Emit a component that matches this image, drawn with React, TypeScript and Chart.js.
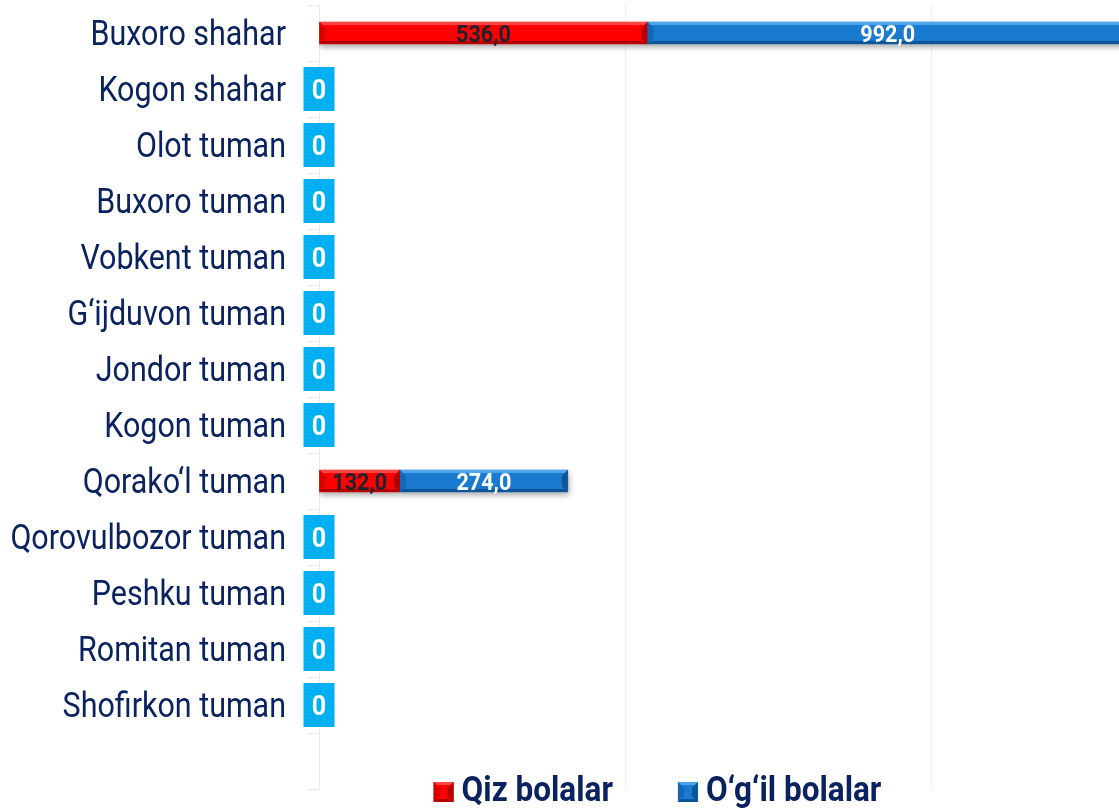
import React, { useEffect, useRef } from 'react';
import { Chart, registerables } from 'chart.js';

Chart.register(...registerables);

const categories = [
  'Buxoro shahar',
  'Kogon shahar',
  'Olot tuman',
  'Buxoro tuman',
  'Vobkent tuman',
  'G‘ijduvon tuman',
  'Jondor tuman',
  'Kogon tuman',
  'Qorako‘l tuman',
  'Qorovulbozor tuman',
  'Peshku tuman',
  'Romitan tuman',
  'Shofirkon tuman',
  '',
];
const qizBolalar = [536, 0, 0, 0, 0, 0, 0, 0, 132, 0, 0, 0, 0, null];
const ogilBolalar = [992, 0, 0, 0, 0, 0, 0, 0, 274, 0, 0, 0, 0, null];
const seriesNames = ['Qiz bolalar', 'O‘g‘il bolalar'];
const xTicks = [0, 500, 1000];
const xMax = 1320;

const NAVY = '#0A2260';
const SX = 0.87;
const SXB = 0.9;
const FONT = 'Roboto, "Noto Sans", sans-serif';

const palettes = [
  { base: '#FF0000', light: '#FF4545', dark: '#B30000', side: '#D40000', text: '#1E232D' },
  { base: '#1A7AD0', light: '#4BA5EC', dark: '#0C5698', side: '#1467B4', text: '#FFFFFF' },
];

function drawText(ctx: CanvasRenderingContext2D, text: string, x: number, y: number, align: string, font: string, color: string, sx: number) {
  ctx.save();
  ctx.font = font;
  ctx.fillStyle = color;
  ctx.textBaseline = 'alphabetic';
  ctx.textAlign = 'left';
  const w = ctx.measureText(text).width * sx;
  const left = align === 'right' ? x - w : align === 'center' ? x - w / 2 : x;
  ctx.translate(left, y);
  ctx.scale(sx, 1);
  ctx.fillText(text, 0, 0);
  ctx.restore();
  return w;
}

function textWidth(ctx: CanvasRenderingContext2D, text: string, font: string, sx: number) {
  ctx.save();
  ctx.font = font;
  const w = ctx.measureText(text).width * sx;
  ctx.restore();
  return w;
}

function bevel(ctx: CanvasRenderingContext2D, l: number, t: number, r: number, b: number, p: any, bw: number) {
  const poly = (pts: number[][], color: string) => {
    ctx.beginPath();
    ctx.moveTo(pts[0][0], pts[0][1]);
    for (let i = 1; i < pts.length; i++) ctx.lineTo(pts[i][0], pts[i][1]);
    ctx.closePath();
    ctx.fillStyle = color;
    ctx.fill();
  };
  poly([[l, t], [r, t], [r - bw, t + bw], [l + bw, t + bw]], p.light);
  poly([[l, b], [r, b], [r - bw, b - bw], [l + bw, b - bw]], p.dark);
  const sw = Math.min(bw * 2, (b - t) / 2);
  poly([[l, t], [l + sw, t + sw], [l + sw, b - sw], [l, b]], p.side);
  poly([[r, t], [r - sw, t + sw], [r - sw, b - sw], [r, b]], p.dark);
}

const decorPlugin = {
  id: 'decor',
  beforeDatasetsDraw(chart: any) {
    const ctx = chart.ctx;
    ctx.save();
    ctx.shadowColor = 'rgba(0,0,0,0.35)';
    ctx.shadowBlur = 6;
    ctx.shadowOffsetX = 1;
    ctx.shadowOffsetY = 3;
  },
  afterDatasetsDraw(chart: any) {
    const ctx = chart.ctx;
    ctx.restore();
    const area = chart.chartArea;
    const xs = chart.scales.x;
    const seriesData = [qizBolalar, ogilBolalar];
    ctx.save();
    ctx.beginPath();
    ctx.rect(area.left, area.top, area.right - area.left, area.bottom - area.top);
    ctx.clip();
    seriesData.forEach((vals, di) => {
      const meta = chart.getDatasetMeta(di);
      meta.data.forEach((el: any, i: number) => {
        const v = vals[i];
        if (!v) return;
        const { x, base, y, height } = el.getProps(['x', 'base', 'y', 'height'], true);
        const l = Math.min(x, base);
        const r = Math.max(x, base);
        bevel(ctx, l, y - height / 2, r, y + height / 2, palettes[di], 3);
      });
    });
    ctx.restore();
    seriesData.forEach((vals, di) => {
      const meta = chart.getDatasetMeta(di);
      meta.data.forEach((el: any, i: number) => {
        const v = vals[i];
        if (!v) return;
        const { x, base, y } = el.getProps(['x', 'base', 'y'], true);
        const l = Math.max(Math.min(x, base), area.left);
        const r = Math.min(Math.max(x, base), area.right);
        const txt = v.toFixed(1).replace('.', ',');
        drawText(ctx, txt, (l + r) / 2, y + 8.5, 'center', `bold 24px ${FONT}`, palettes[di].text, SXB);
      });
    });
    const meta1 = chart.getDatasetMeta(1);
    meta1.data.forEach((el: any, i: number) => {
      if (qizBolalar[i] !== 0 || ogilBolalar[i] !== 0) return;
      const cx = xs.getPixelForValue(0);
      const cy = el.getProps(['y'], true).y;
      ctx.save();
      ctx.fillStyle = '#00B0F0';
      ctx.fillRect(cx - 15.5, cy - 22, 31, 44);
      ctx.restore();
      drawText(ctx, '0', cx, cy + 10, 'center', `bold 28px ${FONT}`, '#FFFFFF', SXB);
    });
  },
  afterDraw(chart: any) {
    const ctx = chart.ctx;
    const ys = chart.scales.y;
    const labelFont = `35px ${FONT}`;
    categories.forEach((c, i) => {
      if (!c) return;
      const y = ys.getPixelForValue(i);
      drawText(ctx, c, 286, y + 12, 'right', labelFont, NAVY, SX);
    });
    const legFont = `bold 35px ${FONT}`;
    const w1 = textWidth(ctx, seriesNames[0], legFont, SXB);
    const w2 = textWidth(ctx, seriesNames[1], legFont, SXB);
    const box = 20, gapT = 8, gapI = 65;
    const total = box + gapT + w1 + gapI + box + gapT + w2;
    let x = 657.5 - total / 2;
    const baseY = 801;
    [w1, w2].forEach((w, di) => {
      const p = palettes[di];
      ctx.save();
      ctx.fillStyle = p.base;
      ctx.fillRect(x, 782, box, box);
      bevel(ctx, x, 782, x + box, 782 + box, p, 3);
      ctx.restore();
      drawText(ctx, seriesNames[di], x + box + gapT, baseY, 'left', legFont, NAVY, SXB);
      x += box + gapT + w + gapI;
    });
  },
};

export default function App() {
  const ref = useRef<HTMLCanvasElement>(null);
  useEffect(() => {
    const chart = new Chart(ref.current as HTMLCanvasElement, {
      type: 'bar',
      data: {
        labels: categories,
        datasets: [
          {
            label: seriesNames[0],
            data: qizBolalar as any,
            backgroundColor: palettes[0].base,
            borderWidth: 0,
            barThickness: 22,
          },
          {
            label: seriesNames[1],
            data: ogilBolalar as any,
            backgroundColor: palettes[1].base,
            borderWidth: 0,
            barThickness: 22,
          },
        ],
      },
      options: {
        animation: false,
        responsive: true,
        maintainAspectRatio: false,
        indexAxis: 'y',
        layout: { padding: { top: 5, bottom: 19, left: 0, right: 0 } },
        plugins: { legend: { display: false }, tooltip: { enabled: false } },
        scales: {
          x: {
            stacked: true,
            min: 0,
            max: xMax,
            ticks: { display: false },
            afterBuildTicks: (s: any) => {
              s.ticks = xTicks.map((v) => ({ value: v }));
            },
            grid: { color: '#EFEFEF', drawTicks: false },
            border: { display: false },
            afterFit: (s: any) => {
              s.height = 0;
            },
          },
          y: {
            stacked: true,
            ticks: { display: false },
            grid: { color: '#EAEAEA', drawOnChartArea: false, tickLength: 11 },
            border: { color: '#EAEAEA' },
            afterFit: (s: any) => {
              s.width = 319;
            },
          },
        },
      } as any,
      plugins: [decorPlugin],
    });
    return () => chart.destroy();
  }, []);
  return (
    <div style={{ position: 'fixed', left: 0, top: 0, width: 1119, height: 808, overflow: 'hidden', background: '#fff' }}>
      <div style={{ position: 'relative', width: 1128, height: 808 }}>
        <canvas ref={ref} />
      </div>
    </div>
  );
}
